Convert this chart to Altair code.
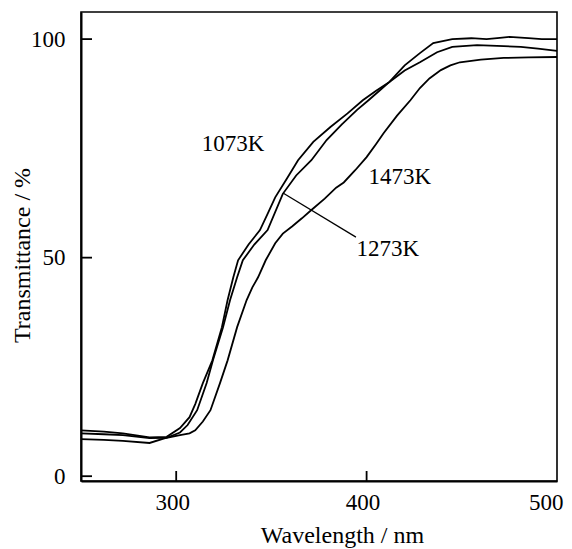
import altair as alt
import pandas as pd

# ---- data ----
wl_1073 = [250, 262, 272, 286, 295, 302, 307, 310, 314, 319, 324, 327, 330, 332.5, 338, 344, 348, 352, 358, 364, 372, 381, 390, 398, 405, 412, 420, 428, 437, 445, 458, 472, 481, 490, 500]
t_1073 = [10.5, 10.2, 9.8, 8.9, 9.0, 11.0, 13.5, 16.5, 21.3, 26.5, 34.1, 40.3, 45.5, 49.4, 53.0, 56.3, 60.0, 63.8, 68.0, 72.3, 76.5, 79.9, 83.0, 86.0, 88.2, 90.2, 92.8, 94.7, 97.0, 98.2, 98.6, 98.4, 98.2, 97.8, 97.3]

wl_1273 = [250, 262, 272, 286, 295, 302, 306, 311, 316, 319.3, 324.6, 328.3, 332, 335, 341, 348, 356, 363, 371, 379, 387, 395, 401, 407, 412, 420, 428, 435, 445, 455, 463, 470, 475, 485, 492, 500]
t_1273 = [8.5, 8.3, 8.1, 7.6, 8.8, 10.0, 11.7, 15.1, 21.3, 26.5, 34.1, 40.3, 45.5, 49.4, 53.0, 56.3, 64.6, 68.8, 72.3, 76.9, 80.5, 83.8, 86.0, 88.3, 90.2, 94.0, 96.8, 99.1, 100.0, 100.2, 100.0, 100.3, 100.5, 100.2, 100.0, 100.0]

wl_1473 = [250, 262, 272, 286, 295, 302, 307, 310, 314, 318, 323, 327, 332, 337, 340, 343, 347, 352, 356, 361, 366, 371, 378, 384, 388, 394, 400, 405, 409, 416, 423, 428, 433, 439, 444, 449, 460, 472, 485, 500]
t_1473 = [9.8, 9.6, 9.4, 8.7, 8.8, 9.4, 9.8, 10.5, 12.5, 15.1, 21.3, 26.5, 34.1, 40.3, 43.2, 45.5, 49.4, 53.3, 55.5, 57.2, 59.0, 60.9, 63.5, 66.0, 67.2, 70.0, 73.0, 76.0, 78.5, 82.5, 86.0, 88.8, 91.0, 92.9, 94.0, 94.7, 95.3, 95.7, 95.8, 95.9]

label_text = ["1073K", "1473K", "1273K"]
label_wl = [329.8, 417.5, 411.2]
label_t = [76.0, 68.4, 51.9]

leader_wl = [356.1]
leader_t = [64.8]
leader_wl2 = [394.4]
leader_t2 = [54.7]

x_ticks = [300, 400, 500]
y_ticks = [0, 50, 100]
x_inner_ticks = [300, 400]

FONT = "Liberation Serif"
W, H = 476, 469

rows = []
for name, xs, ys in [("1073K", wl_1073, t_1073), ("1273K", wl_1273, t_1273), ("1473K", wl_1473, t_1473)]:
    for a, b in zip(xs, ys):
        rows.append({"series": name, "wl": a, "T": b})
df = pd.DataFrame(rows)

xscale = alt.Scale(domain=[250, 500], nice=False, zero=False)
yscale = alt.Scale(domain=[-1.1, 106.2], nice=False, zero=False)

xaxis = alt.Axis(
    values=x_ticks, ticks=False, grid=False, labelFlush=True, labelFlushOffset=10,
    labelPadding=10, labelOffset=-4, labelFontSize=23, labelFont=FONT,
    titleFont=FONT, titleFontSize=24, titleFontWeight="normal",
    titleX=261, titleY=61, titleBaseline="alphabetic",
    domainColor="black", domainWidth=2, labelColor="black", titleColor="black")
yaxis = alt.Axis(
    values=y_ticks, ticks=False, grid=False, labelFlush=False,
    labelPadding=16, labelFontSize=23, labelFont=FONT,
    titleFont=FONT, titleFontSize=24, titleFontWeight="normal",
    titleX=-59, titleY=243, titleAngle=270, titleBaseline="middle", titleAlign="center",
    domainColor="black", domainWidth=2, labelColor="black", titleColor="black")


def X(field):
    return alt.X(field, type="quantitative", scale=xscale, axis=xaxis, title="Wavelength / nm")


def Y(field):
    return alt.Y(field, type="quantitative", scale=yscale, axis=yaxis, title="Transmittance / %")


lines = alt.Chart(df).mark_line(color="black", strokeWidth=1.8).encode(
    x=X("wl"), y=Y("T"), detail="series:N",
)

lab_df = pd.DataFrame({"text": label_text, "wl": label_wl, "T": label_t})
labels = alt.Chart(lab_df).mark_text(font=FONT, fontSize=23, color="black", baseline="middle", align="center").encode(
    x=X("wl"), y=Y("T"), text="text:N",
)

lead_df = pd.DataFrame({"wl": leader_wl, "T": leader_t, "wl2": leader_wl2, "T2": leader_t2})
leader = alt.Chart(lead_df).mark_rule(color="black", strokeWidth=1.3).encode(
    x=X("wl"), y=Y("T"), x2="wl2:Q", y2="T2:Q",
)

xt_df = pd.DataFrame({"wl": x_inner_ticks})
xt = alt.Chart(xt_df).mark_rule(color="black", strokeWidth=1.8).encode(
    x=X("wl"), y=alt.value(H), y2=alt.value(H - 10),
)
yt_df = pd.DataFrame({"T": y_ticks})
yt = alt.Chart(yt_df).mark_rule(color="black", strokeWidth=1.8).encode(
    y=Y("T"), x=alt.value(0), x2=alt.value(11),
)

chart = alt.layer(lines, labels, leader, xt, yt).properties(
    width=W, height=H,
    autosize=alt.AutoSizeParams(type="none"),
    padding={"left": 73, "top": 4, "right": 7, "bottom": 72},
    background="white",
).configure_view(stroke="black", strokeWidth=1.6)

chart.save("out.html", embed_options={"renderer": "svg", "actions": False})
